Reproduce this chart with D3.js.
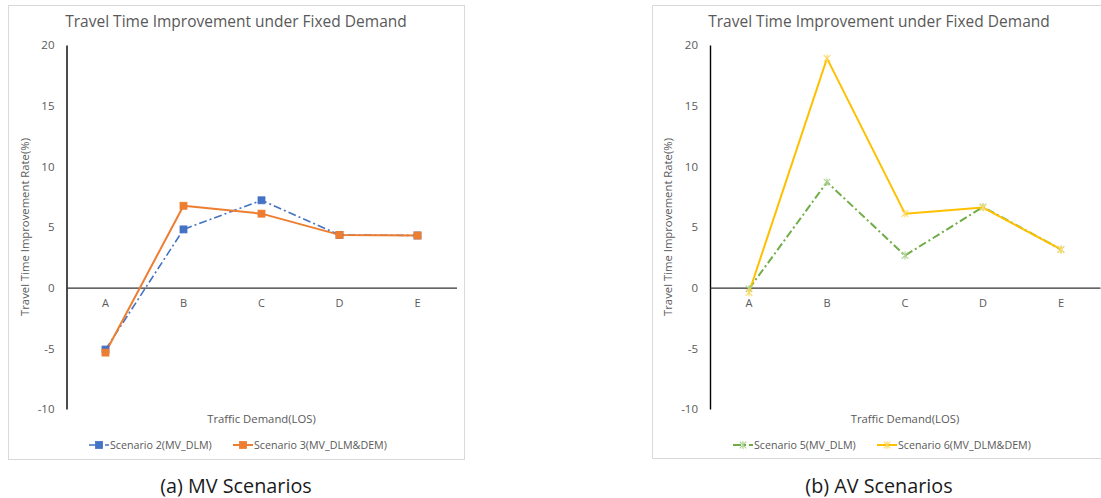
<!DOCTYPE html>
<html>
<head>
<meta charset="utf-8">
<script src="https://cdn.jsdelivr.net/npm/d3@7/dist/d3.min.js"></script>
<style>
  html, body { margin: 0; padding: 0; background: #fff; }
  svg { display: block; }
  .chart-text { font-family: "Open Sans", "Noto Sans", sans-serif; fill: #595959; }
</style>
</head>
<body>
<svg id="fig" width="1101" height="498"></svg>
<script>
// Level-of-service categories on the horizontal axis
const categories = ["A", "B", "C", "D", "E"];
const yTicks = [-10, -5, 0, 5, 10, 15, 20];

// Travel time improvement rate (%) per scenario
const mvScenario2 = [-5.1, 4.8, 7.2, 4.35, 4.3];
const mvScenario3 = [-5.35, 6.75, 6.1, 4.35, 4.3];
const avScenario5 = [-0.1, 8.7, 2.65, 6.65, 3.15];
const avScenario6 = [-0.4, 18.9, 6.1, 6.6, 3.15];

const seriesNames = {
  s2: "Scenario 2(MV_DLM)",
  s3: "Scenario 3(MV_DLM&DEM)",
  s5: "Scenario 5(MV_DLM)",
  s6: "Scenario 6(MV_DLM&DEM)"
};

const chartTitle = "Travel Time Improvement under Fixed Demand";
const yTitle = "Travel Time Improvement Rate(%)";
const xTitle = "Traffic Demand(LOS)";

const svg = d3.select("#fig");
svg.append("rect").attr("width", 1101).attr("height", 498).attr("fill", "#fff");

// Asterisk marker: an "x" with a vertical bar through it
function asteriskPath(r) {
  return `M${-r},${-r}L${r},${r}M${-r},${r}L${r},${-r}M0,${-r * 1.2}L0,${r * 1.2}`;
}

function drawPanel(cfg) {
  const g = svg.append("g");

  // chart area frame
  g.append("rect")
    .attr("x", cfg.frame[0] + 0.5).attr("y", cfg.frame[1] + 0.5)
    .attr("width", cfg.frame[2]).attr("height", cfg.frame[3])
    .attr("fill", "none").attr("stroke", "#d9d9d9").attr("stroke-width", 1);

  const x = d3.scaleBand().domain(categories).range([cfg.plotLeft, cfg.plotLeft + 390]);
  const y = d3.scaleLinear().domain([-10, 20]).range([409, 45]);

  // title
  g.append("text").attr("class", "chart-text")
    .attr("x", cfg.titleX).attr("y", 27)
    .attr("text-anchor", "middle").attr("font-size", 15.5)
    .text(chartTitle);

  // y axis (plain hyphen for negative values)
  const yAxis = d3.axisLeft(y).tickValues(yTicks).tickSize(0).tickPadding(12)
    .tickFormat(d => String(d));
  const ya = g.append("g").attr("transform", `translate(${cfg.plotLeft},0)`).call(yAxis);
  ya.select(".domain").attr("stroke", "#000").attr("stroke-width", 1.4);
  ya.selectAll("text").attr("class", "chart-text").attr("font-size", 11.5)
    .attr("fill", "#595959");

  // category axis along the zero line
  const xAxis = d3.axisBottom(x).tickSize(0).tickPadding(12);
  const xa = g.append("g").attr("transform", `translate(0,${y(0)})`).call(xAxis);
  xa.select(".domain").attr("stroke", "#333").attr("stroke-width", 1.2);
  xa.selectAll("text").attr("class", "chart-text").attr("font-size", 11)
    .attr("fill", "#595959");

  // axis titles
  g.append("text").attr("class", "chart-text")
    .attr("transform", `translate(${cfg.plotLeft - 38},${(y(20) + y(-10)) / 2}) rotate(-90)`)
    .attr("text-anchor", "middle").attr("font-size", 11.3)
    .text(yTitle);
  g.append("text").attr("class", "chart-text")
    .attr("x", cfg.plotLeft + 195).attr("y", 423)
    .attr("text-anchor", "middle").attr("font-size", 11.3)
    .text(xTitle);

  const line = d3.line()
    .x((d, i) => x(categories[i]) + x.bandwidth() / 2)
    .y(d => y(d));

  // series lines, dashed one underneath
  cfg.series.forEach(s => {
    g.append("path").datum(s.values)
      .attr("fill", "none").attr("stroke", s.color)
      .attr("stroke-width", s.width)
      .attr("stroke-dasharray", s.dash || null)
      .attr("stroke-linejoin", "round")
      .attr("d", line);
  });

  // markers
  cfg.series.forEach(s => {
    s.values.forEach((v, i) => {
      const cx = x(categories[i]) + x.bandwidth() / 2, cy = y(v);
      drawMarker(g, s, cx, cy);
    });
  });

  // legend
  cfg.series.forEach(s => {
    const lg = g.append("g");
    lg.append("line")
      .attr("x1", s.legendX).attr("x2", s.legendX + 20)
      .attr("y1", 445).attr("y2", 445)
      .attr("stroke", s.color).attr("stroke-width", s.width)
      .attr("stroke-dasharray", s.dash || null);
    drawMarker(lg, s, s.legendX + 10, 445);
    lg.append("text").attr("class", "chart-text")
      .attr("x", s.legendX + 21).attr("y", 445).attr("dy", "0.35em")
      .attr("font-size", 10.7)
      .text(s.name);
  });

  // caption below the chart
  svg.append("text")
    .attr("x", cfg.titleX).attr("y", 493)
    .attr("text-anchor", "middle")
    .attr("font-family", "'Open Sans', 'Noto Sans', sans-serif")
    .attr("font-size", 19.8).attr("fill", "#1a1a1a")
    .text(cfg.caption);
}

function drawMarker(g, s, cx, cy) {
  if (s.marker === "square") {
    g.append("rect")
      .attr("x", cx - 3.5).attr("y", cy - 3.5)
      .attr("width", 7).attr("height", 7)
      .attr("fill", s.color).attr("stroke", s.color).attr("stroke-width", 0.8);
  } else {
    g.append("path")
      .attr("transform", `translate(${cx},${cy})`)
      .attr("d", asteriskPath(3.3))
      .attr("fill", "none").attr("stroke", s.markerColor)
      .attr("stroke-width", 1.1);
  }
}

drawPanel({
  frame: [8, 5, 456, 454],
  plotLeft: 66.5,
  titleX: 236,
  caption: "(a) MV Scenarios",
  series: [
    { name: seriesNames.s2, values: mvScenario2, color: "#4472C4", width: 1.6,
      dash: "8,3,2,3", marker: "square", legendX: 89 },
    { name: seriesNames.s3, values: mvScenario3, color: "#ED7D31", width: 2,
      marker: "square", legendX: 233 }
  ]
});

drawPanel({
  frame: [652, 5, 460, 453],
  plotLeft: 710,
  titleX: 879,
  caption: "(b) AV Scenarios",
  series: [
    { name: seriesNames.s5, values: avScenario5, color: "#70AD47", width: 2,
      dash: "8,3,2,3", marker: "asterisk", markerColor: "#a9d18e", legendX: 733 },
    { name: seriesNames.s6, values: avScenario6, color: "#FFC000", width: 2,
      marker: "asterisk", markerColor: "#ffd966", legendX: 877 }
  ]
});
</script>
</body>
</html>
